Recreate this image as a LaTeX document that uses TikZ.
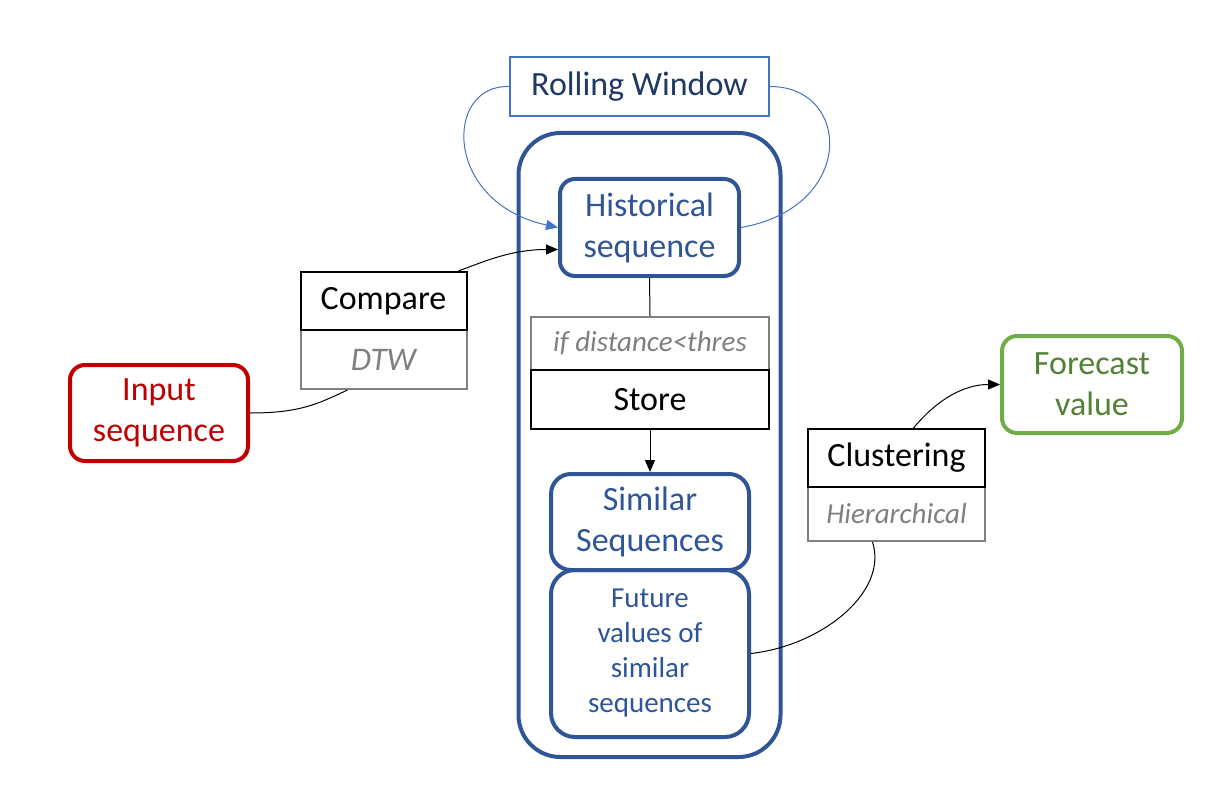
\documentclass[tikz,border=0pt]{standalone}
\usepackage{fontspec}
\setmainfont{Carlito}
\usetikzlibrary{arrows.meta,calc}
\definecolor{dblue}{HTML}{2F5597}
\definecolor{mblue}{HTML}{4472C4}
\definecolor{navy}{HTML}{1F3864}
\definecolor{dred}{HTML}{C00000}
\definecolor{lgreen}{HTML}{70AD47}
\definecolor{dgreen}{HTML}{538135}
\definecolor{gtext}{HTML}{7F7F7F}
\definecolor{gline}{HTML}{808080}
\begin{document}
\begin{tikzpicture}[x=1pt,y=-1pt,
  bigfont/.style={font=\fontsize{34}{41}\selectfont},
  smallfont/.style={font=\fontsize{29}{35}\selectfont},
  rbox/.style={draw, line width=4pt, rounded corners=15pt, align=center, inner sep=0pt, bigfont},
  blackbox/.style={draw=black, line width=2pt, align=center, inner sep=0pt, bigfont},
  graybox/.style={draw=gline, line width=2pt, align=center, inner sep=0pt, text=gtext, font=\fontsize{29}{32}\selectfont\itshape},
  conn/.style={line width=1pt, black},
  tip/.style={-{Triangle[length=12pt,width=10pt]}}
]
\useasboundingbox (0,0) rectangle (1222,810);

% outer container
\node[draw=dblue, line width=4pt, rounded corners=42pt, minimum width=262pt, minimum height=624pt, inner sep=0pt] (outer) at (649.5,445) {};

% rolling window
\node[draw=mblue, line width=2pt, text=navy, bigfont, minimum width=259pt, minimum height=59pt, inner sep=0pt] (roll) at (639.5,86.5) {Rolling Window};

% historical
\node[rbox, draw=dblue, text=dblue, minimum width=179pt, minimum height=97pt] (hist) at (649.5,227.5) {Historical\\sequence};

% if distance / store
\node[graybox, minimum width=238pt, minimum height=53pt] (ifd) at (650,343.5) {if distance<thres};
\node[blackbox, minimum width=238pt, minimum height=59pt] (store) at (650,399.5) {Store};

% similar / future
\node[rbox, draw=dblue, text=dblue, rounded corners=20pt, minimum width=198pt, minimum height=96pt] (sim) at (650,522) {Similar\\Sequences};
\node[rbox, draw=dblue, text=dblue, rounded corners=24pt, smallfont, minimum width=198pt, minimum height=167pt] (fut) at (650,653.5) {Future\\values of\\similar\\sequences};

% input
\node[rbox, draw=dred, text=dred, minimum width=178pt, minimum height=96pt] (inp) at (159,413) {Input\\sequence};

% compare / DTW
\node[graybox, font=\fontsize{33}{36}\selectfont\itshape, minimum width=166pt, minimum height=59pt] (dtw) at (383.5,359.5) {DTW};
\node[blackbox, minimum width=166pt, minimum height=58pt] (cmp) at (383.5,301) {Compare};

% clustering / hierarchical
\node[graybox, minimum width=177pt, minimum height=54pt] (hier) at (896.5,514) {Hierarchical};
\node[blackbox, minimum width=177pt, minimum height=58pt] (clu) at (896.5,458) {Clustering};

% forecast
\node[rbox, draw=lgreen, text=dgreen, minimum width=180pt, minimum height=97pt] (fc) at (1092,384.5) {Forecast\\value};

% connectors
\draw[conn] (inp.east) .. controls ($(inp.east)+(50,0)$) and ($(dtw.south)+(-66,14)$) .. ($(dtw.south)+(-36,0)$);
\draw[conn, tip] ($(cmp.north east)+(-9,0)$) .. controls ($(cmp.north east)+(20,-11)$) and ($(hist.west)+(-45,22)$) .. ($(hist.west)+(0,22)$);
\draw[conn] (hist.south) -- (ifd.north);
\draw[conn, tip] (store.south) -- (sim.north);
\draw[conn] (fut.east) .. controls ($(fut.east)+(71,-8)$) and ($(hier.south)+(-8,50)$) .. ($(hier.south)+(-24,0)$);
\draw[conn, tip] ($(clu.north)+(17,0)$) .. controls ($(clu.north)+(42,-30)$) and ($(fc.west)+(-35,0)$) .. (fc.west);

% rolling window loops
\draw[mblue, line width=1pt, -{Triangle[length=12pt,width=10pt]}] (roll.west) .. controls ($(roll.west)+(-65,-2)$) and ($(hist.west)+(-115,-25)$) .. ($(hist.west)+(0,0)$);
\draw[mblue, line width=1pt] (roll.east) .. controls ($(roll.east)+(82,0)$) and ($(hist.east)+(115,-20)$) .. (hist.east);
\end{tikzpicture}
\end{document}
